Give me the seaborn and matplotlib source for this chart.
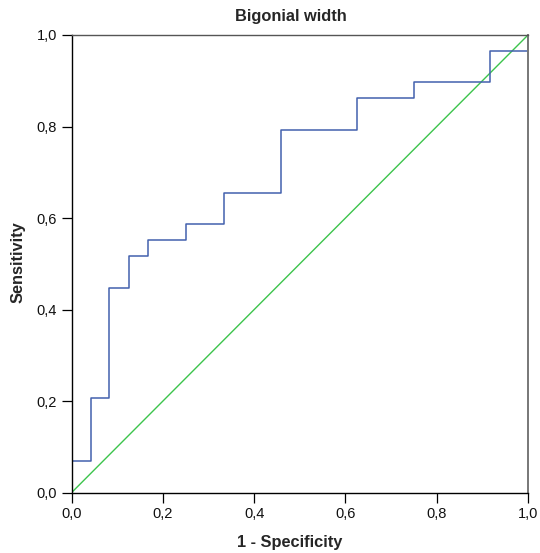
import matplotlib
matplotlib.use("Agg")
import matplotlib.pyplot as plt
import seaborn as sns
import pandas as pd

# ROC curve corner points
fpr = [0.0, 0.0, 0.042, 0.042, 0.083, 0.083, 0.125, 0.125, 0.167, 0.167,
       0.250, 0.250, 0.333, 0.333, 0.458, 0.458, 0.625, 0.625, 0.750, 0.750,
       0.917, 0.917, 1.0, 1.0]
tpr = [0.0, 0.069, 0.069, 0.207, 0.207, 0.448, 0.448, 0.517, 0.517, 0.552,
       0.552, 0.586, 0.586, 0.655, 0.655, 0.793, 0.793, 0.862, 0.862, 0.897,
       0.897, 0.966, 0.966, 1.0]
ref_x = [0.0, 1.0]
ref_y = [0.0, 1.0]
ticks = [0.0, 0.2, 0.4, 0.6, 0.8, 1.0]
tick_labels = ["0,0", "0,2", "0,4", "0,6", "0,8", "1,0"]
title = "Bigonial width"
xlabel = "1 - Specificity"
ylabel = "Sensitivity"

sns.set_style("white")
plt.rcParams["font.family"] = ["Liberation Sans", "DejaVu Sans"]

fig = plt.figure(figsize=(5.4, 5.53), dpi=100)
ax = fig.add_axes([71.5 / 540, 60.3 / 553, (528 - 71.5) / 540, (492.7 - 35) / 553])

roc = pd.DataFrame({"x": fpr, "y": tpr})
ref = pd.DataFrame({"x": ref_x, "y": ref_y})
sns.lineplot(data=ref, x="x", y="y", ax=ax, color="#3cc44c", lw=1.0,
             sort=False, estimator=None)
sns.lineplot(data=roc, x="x", y="y", ax=ax, color="#4361ad", lw=1.1,
             sort=False, estimator=None)

ax.set_xlim(0, 1)
ax.set_ylim(0, 1)
ax.set_xticks(ticks)
ax.set_xticklabels(tick_labels)
ax.set_yticks(ticks)
ax.set_yticklabels(tick_labels)
ax.tick_params(axis="both", direction="out", length=7.5, width=0.9,
               color="black", labelsize=10.5, pad=3, labelcolor="#111111")
ax.tick_params(left=True, bottom=True)

for side in ["left", "bottom"]:
    ax.spines[side].set_color("black")
    ax.spines[side].set_linewidth(1.0)
ax.spines["top"].set_color("#555555")
ax.spines["top"].set_linewidth(1.0)
ax.spines["right"].set_color("#777777")
ax.spines["right"].set_linewidth(1.4)

ax.set_xlabel("")
ax.set_ylabel("")
fig.text(18 / 540, 1 - 262 / 553, ylabel, fontsize=11.8, fontweight="bold",
         ha="center", va="center", rotation=90)
fig.text(290 / 540, 1 - 542 / 553, xlabel, fontsize=11.8, fontweight="bold",
         ha="center", va="center")
fig.text(291 / 540, 1 - 16 / 553, title, fontsize=11.8, fontweight="bold",
         ha="center", va="center")

fig.savefig("out.png", dpi=100)
